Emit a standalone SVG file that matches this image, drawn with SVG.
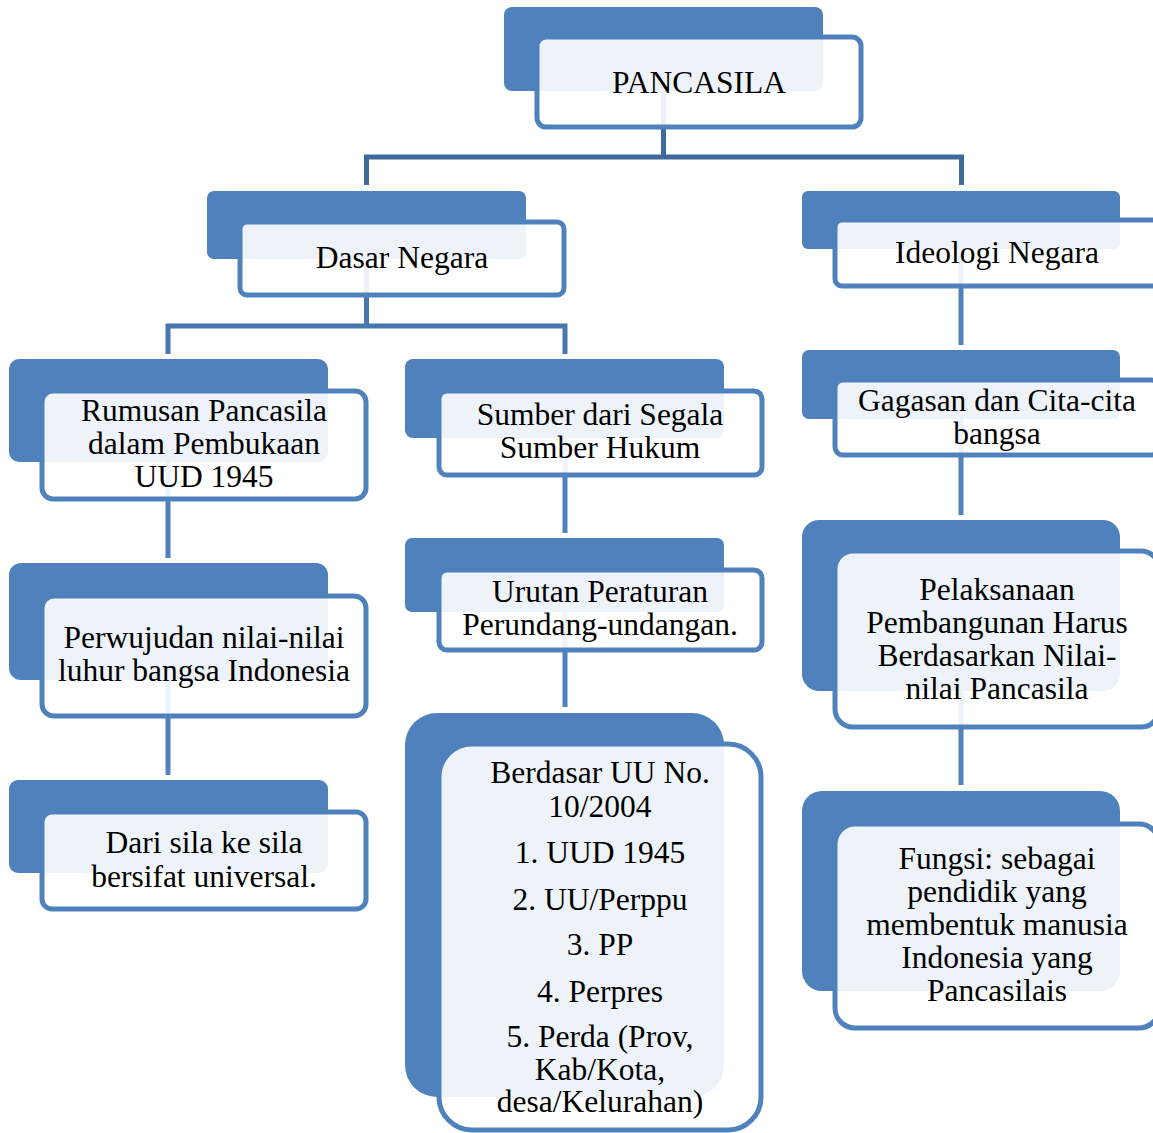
<svg xmlns="http://www.w3.org/2000/svg" width="1153" height="1133" viewBox="0 0 1153 1133">
<style>
.back{fill:#4F81BD}
.front{fill:#FFFFFF;fill-opacity:0.9;stroke:#4F81BD;stroke-width:5}
.t{font-family:"Liberation Serif","Times New Roman",serif;font-size:31.5px;fill:#000000;text-anchor:middle}
.c1{fill:none;stroke:#41699B;stroke-width:5}
.c2{fill:none;stroke:#4876AE;stroke-width:5}
.c3{fill:none;stroke:#4F81BD;stroke-width:5}
</style>
<rect width="1153" height="1133" fill="#FFFFFF"/>
<g id="connectors">
<path class="c1" d="M663.5,50 V157 M366.5,185 V157 H961.5 V185"/>
<path class="c2" d="M366.5,230 V326 M168,354 V326 H565 V354"/>
<path class="c3" d="M168,410 V558 M168,620 V775"/>
<path class="c3" d="M565,400 V533 M565,575 V707"/>
<path class="c3" d="M961,220 V345 M961,385 V515 M961,600 V785"/>
</g>
<g id="n-pancasila">
<rect class="back" x="504" y="7" width="319" height="84" rx="8"/>
<rect class="front" x="537" y="37" width="324" height="90" rx="9"/>
<text class="t" x="699" y="93">PANCASILA</text>
</g>
<g id="n-dasar">
<rect class="back" x="207" y="191" width="319" height="68" rx="7"/>
<rect class="front" x="240" y="222" width="324" height="73" rx="7"/>
<text class="t" x="402" y="268">Dasar Negara</text>
</g>
<g id="n-ideologi">
<rect class="back" x="802" y="191" width="318" height="58" rx="6"/>
<rect class="front" x="835" y="220" width="324" height="66" rx="7"/>
<text class="t" x="997" y="263">Ideologi Negara</text>
</g>
<g id="n-rumusan">
<rect class="back" x="9" y="359" width="319" height="103" rx="10"/>
<rect class="front" x="42" y="391" width="324" height="108" rx="11"/>
<text class="t" x="204" y="421">Rumusan Pancasila</text>
<text class="t" x="204" y="454">dalam Pembukaan</text>
<text class="t" x="204" y="487">UUD 1945</text>
</g>
<g id="n-sumber">
<rect class="back" x="405" y="359" width="319" height="79" rx="8"/>
<rect class="front" x="439" y="391" width="323" height="84" rx="8"/>
<text class="t" x="600" y="425">Sumber dari Segala</text>
<text class="t" x="600" y="458">Sumber Hukum</text>
</g>
<g id="n-perwujudan">
<rect class="back" x="9" y="563" width="319" height="117" rx="12"/>
<rect class="front" x="42" y="596" width="324" height="120" rx="12"/>
<text class="t" x="204" y="648">Perwujudan nilai-nilai</text>
<text class="t" x="204" y="681">luhur bangsa Indonesia</text>
</g>
<g id="n-urutan">
<rect class="back" x="405" y="538" width="319" height="74" rx="7"/>
<rect class="front" x="439" y="570" width="323" height="80" rx="8"/>
<text class="t" x="600" y="602">Urutan Peraturan</text>
<text class="t" x="600" y="635">Perundang-undangan.</text>
</g>
<g id="n-darisila">
<rect class="back" x="9" y="780" width="319" height="93" rx="9"/>
<rect class="front" x="42" y="812" width="324" height="97" rx="10"/>
<text class="t" x="204" y="853">Dari sila ke sila</text>
<text class="t" x="204" y="887">bersifat universal.</text>
</g>
<g id="n-berdasar">
<rect class="back" x="405" y="713" width="319" height="384" rx="32"/>
<rect class="front" x="439" y="744" width="322" height="386" rx="33"/>
<text class="t" x="600" y="783">Berdasar UU No.</text>
<text class="t" x="600" y="817">10/2004</text>
<text class="t" x="600" y="863">1. UUD 1945</text>
<text class="t" x="600" y="910">2. UU/Perppu</text>
<text class="t" x="600" y="955">3. PP</text>
<text class="t" x="600" y="1002">4. Perpres</text>
<text class="t" x="600" y="1047">5. Perda (Prov,</text>
<text class="t" x="600" y="1080">Kab/Kota,</text>
<text class="t" x="600" y="1112">desa/Kelurahan)</text>
</g>
<g id="n-gagasan">
<rect class="back" x="802" y="350" width="318" height="69" rx="7"/>
<rect class="front" x="835" y="380" width="324" height="75" rx="8"/>
<text class="t" x="997" y="411">Gagasan dan Cita-cita</text>
<text class="t" x="997" y="444">bangsa</text>
</g>
<g id="n-pelaksanaan">
<rect class="back" x="802" y="520" width="318" height="171" rx="17"/>
<rect class="front" x="835" y="551" width="324" height="176" rx="18"/>
<text class="t" x="997" y="600">Pelaksanaan</text>
<text class="t" x="997" y="633">Pembangunan Harus</text>
<text class="t" x="997" y="666">Berdasarkan Nilai-</text>
<text class="t" x="997" y="699">nilai Pancasila</text>
</g>
<g id="n-fungsi">
<rect class="back" x="802" y="791" width="318" height="200" rx="20"/>
<rect class="front" x="835" y="824" width="324" height="204" rx="20"/>
<text class="t" x="997" y="869">Fungsi: sebagai</text>
<text class="t" x="997" y="902">pendidik yang</text>
<text class="t" x="997" y="935">membentuk manusia</text>
<text class="t" x="997" y="968">Indonesia yang</text>
<text class="t" x="997" y="1001">Pancasilais</text>
</g>
</svg>
